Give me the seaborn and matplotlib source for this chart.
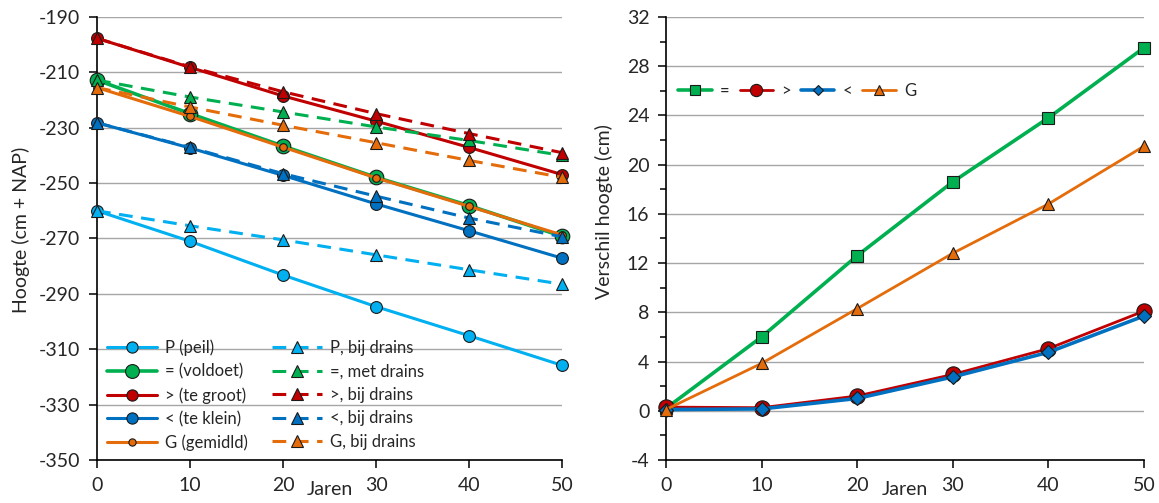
import matplotlib
matplotlib.use("Agg")
import matplotlib.pyplot as plt
from matplotlib.ticker import MultipleLocator, FixedLocator
import seaborn as sns
import pandas as pd

# Years
jaren = [0, 10, 20, 30, 40, 50]

# Surface height (cm + NAP) per strategy, without and with drains
p_peil = [-260.0, -271.0, -283.2, -294.6, -305.1, -315.8]
p_drains = [-260.0, -265.4, -270.5, -275.9, -281.3, -286.5]
voldoet = [-212.8, -224.9, -236.6, -247.9, -258.1, -269.2]
voldoet_drains = [-212.8, -218.9, -224.3, -229.7, -234.6, -240.0]
te_groot = [-197.7, -208.2, -218.5, -227.6, -237.1, -246.9]
te_groot_drains = [-197.7, -208.0, -217.0, -224.9, -232.1, -239.0]
te_klein = [-228.2, -237.3, -247.2, -257.5, -267.2, -277.1]
te_klein_drains = [-228.2, -237.1, -246.6, -254.7, -262.6, -269.4]
gemiddeld = [-215.5, -225.9, -237.0, -248.1, -258.4, -268.7]
gemiddeld_drains = [-215.5, -222.5, -229.1, -235.4, -241.8, -247.9]

labels_zonder = ["P (peil)", "= (voldoet)", "> (te groot)", "< (te klein)", "G (gemidld)"]
labels_met = ["P, bij drains", "=, met drains", ">, bij drains", "<, bij drains", "G, bij drains"]
hoogte_ticks = [-350, -330, -310, -290, -270, -250, -230, -210, -190]

# Height difference (cm) caused by drains
verschil_gelijk = [0.2, 6.0, 12.6, 18.6, 23.8, 29.5]
verschil_groot = [0.3, 0.25, 1.2, 2.95, 5.05, 8.1]
verschil_klein = [0.1, 0.15, 1.0, 2.75, 4.75, 7.7]
verschil_gem = [0.1, 3.85, 8.3, 12.8, 16.8, 21.5]
labels_verschil = ["=", ">", "<", "G"]

LICHTBLAUW = "#00B0F0"
GROEN = "#00B050"
ROOD = "#C00000"
BLAUW = "#0070C0"
ORANJE = "#E46C0A"
GRID = "#A6A6A6"

sns.set_theme(style="white")
plt.rcParams["font.family"] = ["Lato", "DejaVu Sans"]
plt.rcParams["axes.unicode_minus"] = False

fig = plt.figure(figsize=(11.59, 5.03), dpi=100)
ax1 = fig.add_axes([0.0837, 0.0855, 0.4012, 0.8807])
ax2 = fig.add_axes([0.5746, 0.0855, 0.4124, 0.8807])

df_h = pd.DataFrame({
    "jaren": jaren,
    "p": p_peil, "p_d": p_drains,
    "v": voldoet, "v_d": voldoet_drains,
    "g": te_groot, "g_d": te_groot_drains,
    "k": te_klein, "k_d": te_klein_drains,
    "m": gemiddeld, "m_d": gemiddeld_drains,
})

solid_specs = [
    ("p", LICHTBLAUW, 8.5, 2.2),
    ("v", GROEN, 10.5, 2.6),
    ("g", ROOD, 8.5, 2.2),
    ("k", BLAUW, 8.5, 2.2),
    ("m", ORANJE, 5.5, 2.2),
]
for (col, color, ms, lw), lab in zip(solid_specs, labels_zonder):
    sns.lineplot(data=df_h, x="jaren", y=col, ax=ax1, color=color, lw=lw,
                 marker="o", markersize=ms, markerfacecolor=color,
                 markeredgecolor="#1a1a1a", markeredgewidth=0.8,
                 label=lab, clip_on=False, zorder=3)

dashed_specs = [
    ("p_d", LICHTBLAUW),
    ("v_d", GROEN),
    ("g_d", ROOD),
    ("k_d", BLAUW),
    ("m_d", ORANJE),
]
for (col, color), lab in zip(dashed_specs, labels_met):
    sns.lineplot(data=df_h, x="jaren", y=col, ax=ax1, color=color, lw=2.2,
                 linestyle=(0, (4.5, 2.8)),
                 marker="^", markersize=8.5, markerfacecolor=color,
                 markeredgecolor="#1a1a1a", markeredgewidth=0.8,
                 label=lab, clip_on=False, zorder=4)

ax1.set_xlim(0, 50)
ax1.set_ylim(-350, -190)
ax1.xaxis.set_major_locator(MultipleLocator(10))
ax1.yaxis.set_major_locator(FixedLocator(hoogte_ticks))
ax1.set_ylabel("Hoogte (cm + NAP)", fontsize=14)
ax1.set_xlabel("Jaren", fontsize=14)
ax1.yaxis.set_label_coords(-0.145, 0.52)
ax1.xaxis.set_label_coords(0.5, -0.048)

handles, labels = ax1.get_legend_handles_labels()
ax1.legend(handles, labels, ncol=2, loc="upper left",
           bbox_to_anchor=(0.0, 0.295), frameon=False, fontsize=12,
           handlelength=3.0, handletextpad=0.5, columnspacing=1.4,
           labelspacing=0.45, borderaxespad=0.2, markerscale=0.95)

df_v = pd.DataFrame({
    "jaren": jaren,
    "gelijk": verschil_gelijk,
    "groot": verschil_groot,
    "klein": verschil_klein,
    "gem": verschil_gem,
})
verschil_specs = [
    ("gelijk", GROEN, "s", 9.0, 2.6),
    ("groot", ROOD, "o", 11.0, 2.0),
    ("klein", BLAUW, "D", 7.0, 2.6),
    ("gem", ORANJE, "^", 9.0, 2.0),
]
for (col, color, mk, ms, lw), lab in zip(verschil_specs, labels_verschil):
    sns.lineplot(data=df_v, x="jaren", y=col, ax=ax2, color=color, lw=lw,
                 marker=mk, markersize=ms, markerfacecolor=color,
                 markeredgecolor="#1a1a1a", markeredgewidth=0.8,
                 label=lab, clip_on=False, zorder=3)

ax2.set_xlim(0, 50)
ax2.set_ylim(-4, 32)
ax2.xaxis.set_major_locator(MultipleLocator(10))
ax2.yaxis.set_major_locator(MultipleLocator(4))
ax2.yaxis.set_minor_locator(MultipleLocator(2))
ax2.set_ylabel("Verschil hoogte (cm)", fontsize=14)
ax2.set_xlabel("Jaren", fontsize=14)
ax2.yaxis.set_label_coords(-0.11, 0.56)
ax2.xaxis.set_label_coords(0.5, -0.048)
ax2.legend(ncol=4, loc="center left", bbox_to_anchor=(0.005, 0.833),
           frameon=False, fontsize=12, handlelength=2.0,
           handletextpad=0.5, columnspacing=0.6, borderaxespad=0.2,
           markerscale=0.8)

for ax in (ax1, ax2):
    ax.set_axisbelow(True)
    ax.yaxis.grid(True, color=GRID, lw=1.0)
    ax.xaxis.grid(False)
    for side in ("top", "right"):
        ax.spines[side].set_visible(False)
    for side in ("left", "bottom"):
        ax.spines[side].set_color("black")
        ax.spines[side].set_linewidth(1.2)
    ax.tick_params(axis="both", which="major", direction="out", length=6,
                   width=1.1, color="black", labelsize=14, pad=6,
                   left=True, bottom=True)
    ax.tick_params(axis="y", which="minor", direction="out", length=4,
                   width=1.1, color="black", left=True)

fig.savefig("out.png", dpi=100)
